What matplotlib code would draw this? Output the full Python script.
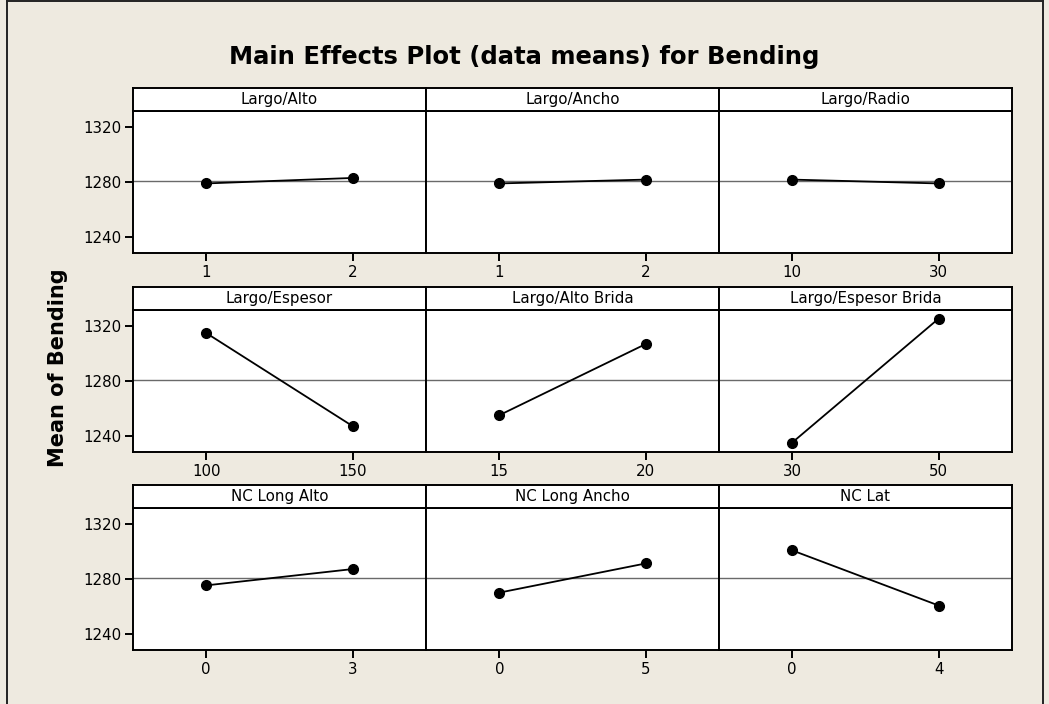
import matplotlib
matplotlib.use("Agg")
import matplotlib.pyplot as plt
from matplotlib.lines import Line2D

# Main effects: mean of Bending at the low and high level of each factor
factors = ["Largo/Alto", "Largo/Ancho", "Largo/Radio",
           "Largo/Espesor", "Largo/Alto Brida", "Largo/Espesor Brida",
           "NC Long Alto", "NC Long Ancho", "NC Lat"]
levels = [["1", "2"], ["1", "2"], ["10", "30"],
          ["100", "150"], ["15", "20"], ["30", "50"],
          ["0", "3"], ["0", "5"], ["0", "4"]]
low_means = [1279.2, 1279.2, 1282.0, 1315.2, 1255.3, 1235.4, 1275.6, 1270.3, 1301.1]
high_means = [1283.2, 1282.0, 1279.2, 1247.3, 1307.2, 1325.8, 1287.5, 1291.6, 1260.9]
grand_mean = 1281.0
y_ticks = [1240, 1280, 1320]

W, H = 1049, 704
BG = "#EEEAE0"

fig = plt.figure(figsize=(W / 100, H / 100), dpi=100, facecolor=BG)
plt.rcParams["font.family"] = ["DejaVu Sans"]


def px_rect(x0, y0, x1, y1):
    """Convert a pixel box (top-left origin) to figure fractions."""
    return [x0 / W, 1 - y1 / H, (x1 - x0) / W, (y1 - y0) / H]


col_edges = [133, 426, 719, 1012]
row_tops = [88, 287, 485]
strip_h = 23
panel_h = 165

for i, name in enumerate(factors):
    r, c = divmod(i, 3)
    x0, x1 = col_edges[c], col_edges[c + 1]
    top = row_tops[r]
    ax = fig.add_axes(px_rect(x0, top + strip_h, x1, top + panel_h))
    ax.set_facecolor("white")
    ax.axhline(grand_mean, color="#6a6a6a", lw=1.0, zorder=1)
    ax.plot([1, 2], [low_means[i], high_means[i]], color="black", lw=1.3,
            marker="o", markersize=7, markerfacecolor="black",
            markeredgecolor="black", zorder=3)
    ax.set_xlim(0.5, 2.5)
    ax.set_ylim(1228.5, 1332)
    ax.set_xticks([1, 2])
    ax.set_xticklabels(levels[i])
    ax.set_yticks(y_ticks)
    if c == 0:
        ax.set_yticklabels([str(v) for v in y_ticks])
        ax.tick_params(axis="y", left=True)
    else:
        ax.tick_params(axis="y", left=False, labelleft=False)
    ax.tick_params(direction="out", length=5.5, width=1.4, labelsize=10.8,
                   pad=3, colors="black")
    for s in ax.spines.values():
        s.set_linewidth(1.4)
        s.set_color("black")

    sax = fig.add_axes(px_rect(x0, top, x1, top + strip_h))
    sax.set_facecolor("white")
    sax.set_xticks([])
    sax.set_yticks([])
    for s in sax.spines.values():
        s.set_linewidth(1.4)
        s.set_color("black")
    sax.text(0.5, 0.5, name, ha="center", va="center", fontsize=10.8,
             transform=sax.transAxes)

fig.text(0.5, 1 - 57 / H, "Main Effects Plot (data means) for Bending",
         ha="center", va="center", fontsize=17.5, fontweight="bold")
fig.text(58 / W, 1 - 368 / H, "Mean of Bending", ha="center", va="center",
         rotation=90, fontsize=15, fontweight="bold")

# Outer frame around the chart area
frame_kw = dict(color="#222222", lw=1.4, transform=fig.transFigure)
fig.add_artist(Line2D([7 / W, 7 / W], [0, 1 - 1 / H], **frame_kw))
fig.add_artist(Line2D([7 / W, 1043 / W], [1 - 1 / H, 1 - 1 / H], **frame_kw))
fig.add_artist(Line2D([1043 / W, 1043 / W], [0, 1 - 1 / H], **frame_kw))

fig.savefig("out.png", dpi=100, facecolor=BG)
